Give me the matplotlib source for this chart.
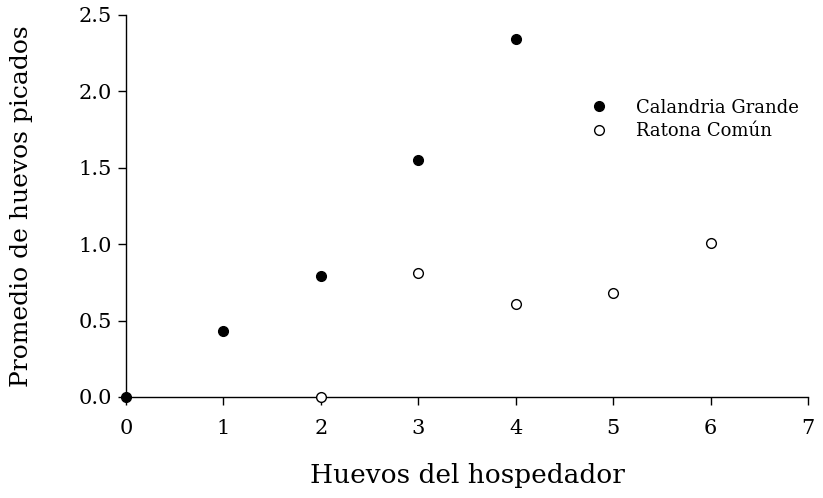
import matplotlib
matplotlib.use("Agg")
import matplotlib.pyplot as plt

plt.rcParams['font.family'] = ['DejaVu Serif']

cal_x = [0, 1, 2, 3, 4]
cal_y = [0.0, 0.43, 0.79, 1.55, 2.34]
rat_x = [2, 3, 4, 5, 6]
rat_y = [0.0, 0.81, 0.61, 0.68, 1.01]
xticks = [0, 1, 2, 3, 4, 5, 6, 7]
yticks = [0.0, 0.5, 1.0, 1.5, 2.0, 2.5]

fig = plt.figure(figsize=(8.23, 4.98), dpi=100)
ax = fig.add_axes([0.153, 0.203, 0.829, 0.767])

ax.plot(cal_x, cal_y, 'o', color='black', markersize=7, clip_on=False, zorder=3,
        label='Calandria Grande')
ax.plot(rat_x, rat_y, 'o', markerfacecolor='white', markeredgecolor='black',
        markeredgewidth=1, markersize=7, clip_on=False, zorder=3, label='Ratona Común')

ax.set_xlim(0, 7)
ax.set_ylim(0, 2.5)
ax.set_xticks(xticks)
ax.set_yticks(yticks)
ax.set_xticklabels([str(v) for v in xticks])
ax.set_yticklabels([f"{v:.1f}" for v in yticks])
for s in ['top', 'right']:
    ax.spines[s].set_visible(False)
for s in ['left', 'bottom']:
    ax.spines[s].set_linewidth(1.0)
ax.tick_params(axis='both', direction='out', length=6, width=1, labelsize=15)
ax.tick_params(axis='x', pad=10)
ax.tick_params(axis='y', pad=4)

ax.set_xlabel('Huevos del hospedador', fontsize=19, labelpad=18)
ax.set_ylabel('Promedio de huevos picados', fontsize=18, labelpad=33)

ax.legend(loc='upper left', bbox_to_anchor=(0.657, 0.80), frameon=False, fontsize=13,
          handletextpad=1.0, labelspacing=0.3, borderaxespad=0)

fig.savefig('out.png', dpi=100)
